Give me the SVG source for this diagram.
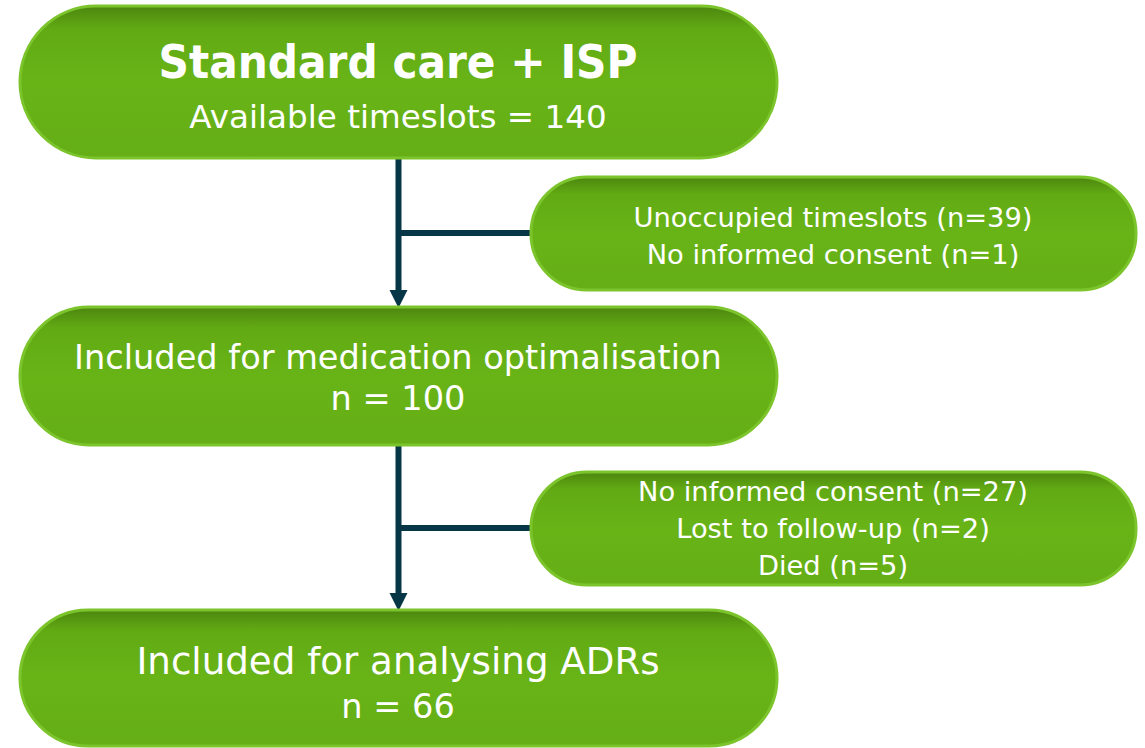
<svg xmlns="http://www.w3.org/2000/svg" width="1145" height="748" viewBox="0 0 1145 748">
<style>
.box{stroke:#7cc42c;stroke-width:3;fill:url(#g)}
.t{font-family:"DejaVu Sans",sans-serif;fill:#ffffff;text-anchor:middle}
.tb{font-family:"DejaVu Sans Condensed","DejaVu Sans",sans-serif;font-weight:bold;fill:#ffffff;text-anchor:middle}
.c{stroke:#073746;stroke-width:6;fill:none}
</style>
<defs>
<linearGradient id="g" x1="0" y1="0" x2="0" y2="1">
<stop offset="0" stop-color="#4c860e"/>
<stop offset="0.15" stop-color="#62aa14"/>
<stop offset="0.5" stop-color="#68b417"/>
<stop offset="1" stop-color="#65ae16"/>
</linearGradient>
</defs>
<g id="connectors">
<line class="c" x1="398.5" y1="158" x2="398.5" y2="290"/>
<path d="M389.5,290 L407.5,290 L398.5,308 Z" fill="#073746"/>
<line class="c" x1="398.5" y1="233" x2="532" y2="233"/>
<line class="c" x1="398.5" y1="445" x2="398.5" y2="593"/>
<path d="M389.5,593 L407.5,593 L398.5,611 Z" fill="#073746"/>
<line class="c" x1="398.5" y1="528" x2="532" y2="528"/>
</g>
<g id="n1">
<rect class="box" x="20" y="6" width="757" height="152" rx="76"/>
<text class="tb" x="398" y="78" font-size="47">Standard care + ISP</text>
<text class="t" x="398" y="128" font-size="32.6">Available timeslots = 140</text>
</g>
<g id="n2">
<rect class="box" x="531" y="177" width="605" height="113" rx="56"/>
<text class="t" x="833" y="227" font-size="27.3">Unoccupied timeslots (n=39)</text>
<text class="t" x="833" y="264" font-size="27.3">No informed consent (n=1)</text>
</g>
<g id="n3">
<rect class="box" x="20" y="307" width="757" height="138" rx="69"/>
<text class="t" x="398" y="369" font-size="33.6">Included for medication optimalisation</text>
<text class="t" x="398" y="410" font-size="33.6">n = 100</text>
</g>
<g id="n4">
<rect class="box" x="531" y="472" width="605" height="113" rx="56"/>
<text class="t" x="833" y="501" font-size="27.3">No informed consent (n=27)</text>
<text class="t" x="833" y="538" font-size="27.3">Lost to follow-up (n=2)</text>
<text class="t" x="833" y="575" font-size="27.3">Died (n=5)</text>
</g>
<g id="n5">
<rect class="box" x="20" y="610" width="757" height="136" rx="68"/>
<text class="t" x="398" y="674" font-size="37.2">Included for analysing ADRs</text>
<text class="t" x="398" y="718" font-size="33.6">n = 66</text>
</g>
</svg>
